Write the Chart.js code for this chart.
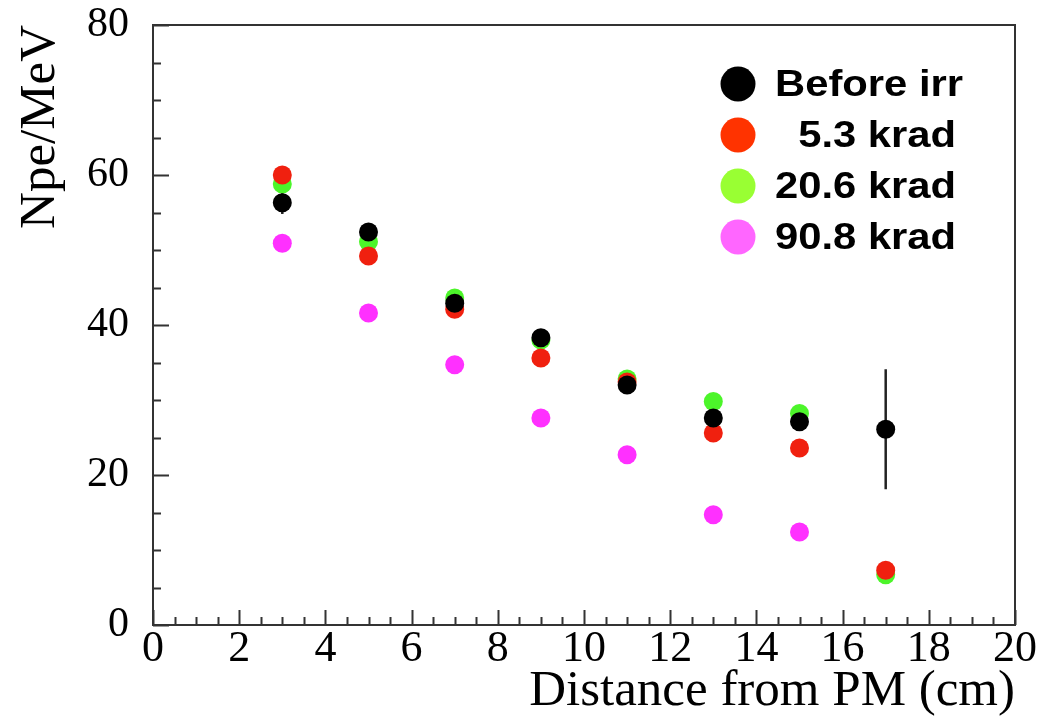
<!DOCTYPE html>
<html>
<head>
<meta charset="utf-8">
<script src="https://cdn.jsdelivr.net/npm/chart.js@4.4.1/dist/chart.umd.min.js"></script>
<style>
  html, body { margin: 0; padding: 0; background: #fff; }
  #wrap { width: 1041px; height: 724px; position: relative; }
</style>
</head>
<body>
<div id="wrap"><canvas id="chart"></canvas></div>
<script>
// data
const distances = [3, 5, 7, 9, 11, 13, 15, 17];
const beforeIrr = [56.3, 52.4, 42.9, 38.3, 32.0, 27.6, 27.1, 26.1];
const beforeErr = [1.5, 0.8, 0.5, 1.0, 0.5, 1.0, 0.6, 8.0];
const krad5 = [60.0, 49.2, 42.1, 35.6, 32.4, 25.6, 23.6, 7.3];
const krad20 = [58.8, 51.1, 43.6, 38.0, 32.8, 29.8, 28.2, 6.7];
const krad90 = [50.9, 41.6, 34.7, 27.6, 22.7, 14.7, 12.4, null];

const seriesLabels = ['Before irr', '  5.3 krad', '20.6 krad', '90.8 krad'];
const markerColors = ['#000000', '#f0200f', '#4cf52a', '#ff30ff'];
const legendColors = ['#000000', '#ff3300', '#99ff33', '#ff66ff'];

const xTitle = 'Distance from PM (cm)';
const yTitle = 'Npe/MeV';

function points(values) {
    const out = [];
    values.forEach((v, i) => {
        if (v !== null) out.push({ x: distances[i], y: v });
    });
    return out;
}

const allSeries = [beforeIrr, krad5, krad20, krad90];

// frame, inward ticks, error bars and the legend box
const decorations = {
    id: 'decorations',
    beforeDatasetsDraw(chart) {
        const ctx = chart.ctx;
        const xs = chart.scales.x, ys = chart.scales.y;
        ctx.save();
        ctx.strokeStyle = '#222';
        ctx.lineWidth = 2.5;
        beforeIrr.forEach((v, i) => {
            const px = xs.getPixelForValue(distances[i]);
            ctx.beginPath();
            ctx.moveTo(px, ys.getPixelForValue(v - beforeErr[i]));
            ctx.lineTo(px, ys.getPixelForValue(v + beforeErr[i]));
            ctx.stroke();
        });
        ctx.restore();
    },
    afterDraw(chart) {
        const ctx = chart.ctx;
        const a = chart.chartArea;
        const xs = chart.scales.x, ys = chart.scales.y;
        ctx.save();
        ctx.strokeStyle = '#333';
        ctx.lineWidth = 2;
        ctx.strokeRect(a.left, a.top, a.right - a.left, a.bottom - a.top);

        ctx.beginPath();
        for (let v = 0; v <= 20.001; v += 0.5) {
            const px = Math.round(xs.getPixelForValue(v)) + 0.5;
            const len = (Math.abs(v % 2) < 0.001) ? 15 : 8;
            ctx.moveTo(px, a.bottom);
            ctx.lineTo(px, a.bottom - len);
        }
        for (let v = 0; v <= 80.001; v += 5) {
            const py = Math.round(ys.getPixelForValue(v)) + 0.5;
            const len = (Math.abs(v % 20) < 0.001) ? 16 : 8;
            ctx.moveTo(a.left, py);
            ctx.lineTo(a.left + len, py);
        }
        ctx.stroke();

        // legend (text a bit wider than tall, like the original)
        const lx = 738, ly = 84, gap = 51;
        ctx.textBaseline = 'middle';
        seriesLabels.forEach((lab, i) => {
            const cy = ly + i * gap;
            ctx.fillStyle = legendColors[i];
            ctx.beginPath();
            ctx.arc(lx, cy, 17.5, 0, Math.PI * 2);
            ctx.fill();
            ctx.save();
            ctx.translate(lx + 37, cy + 2);
            ctx.scale(1.16, 1);
            ctx.font = 'bold 36px "Liberation Sans", Arial, sans-serif';
            ctx.fillStyle = '#000';
            ctx.fillText(lab, 0, 0);
            ctx.restore();
        });
        ctx.restore();
    }
};

const serif = '"Liberation Serif", "Times New Roman", serif';

new Chart(document.getElementById('chart'), {
    type: 'scatter',
    data: {
        datasets: allSeries.map((vals, i) => ({
            label: seriesLabels[i],
            data: points(vals),
            backgroundColor: markerColors[i],
            borderColor: markerColors[i],
            borderWidth: 0,
            pointRadius: 9.5,
            pointHoverRadius: 9.5
        }))
    },
    options: {
        responsive: true,
        maintainAspectRatio: false,
        animation: false,
        layout: { padding: { top: 25, right: 26, left: 0, bottom: 0 } },
        scales: {
            x: {
                type: 'linear',
                min: 0,
                max: 20,
                grid: { display: false, drawTicks: false },
                border: { display: false },
                ticks: {
                    stepSize: 2,
                    color: '#000',
                    padding: -2,
                    maxRotation: 0,
                    font: { family: serif, size: 44 }
                },
                title: {
                    display: true,
                    text: xTitle,
                    align: 'end',
                    color: '#000',
                    padding: { top: 0, bottom: 2 },
                    font: { family: serif, size: 51 }
                },
                afterFit(scale) {
                    scale.height = 99;
                    scale.paddingRight = 0;
                }
            },
            y: {
                type: 'linear',
                min: 0,
                max: 80,
                grid: { display: false, drawTicks: false },
                border: { display: false },
                ticks: {
                    stepSize: 20,
                    color: '#000',
                    padding: 24,
                    font: { family: serif, size: 42 }
                },
                title: {
                    display: true,
                    text: yTitle,
                    align: 'end',
                    color: '#000',
                    padding: { top: 10, bottom: 0 },
                    font: { family: serif, size: 51 }
                },
                afterFit(scale) {
                    scale.width = 153;
                    scale.paddingTop = 0;
                    scale.paddingBottom = 0;
                }
            }
        },
        plugins: {
            legend: { display: false },
            tooltip: { enabled: false }
        }
    },
    plugins: [decorations]
});
</script>
</body>
</html>
